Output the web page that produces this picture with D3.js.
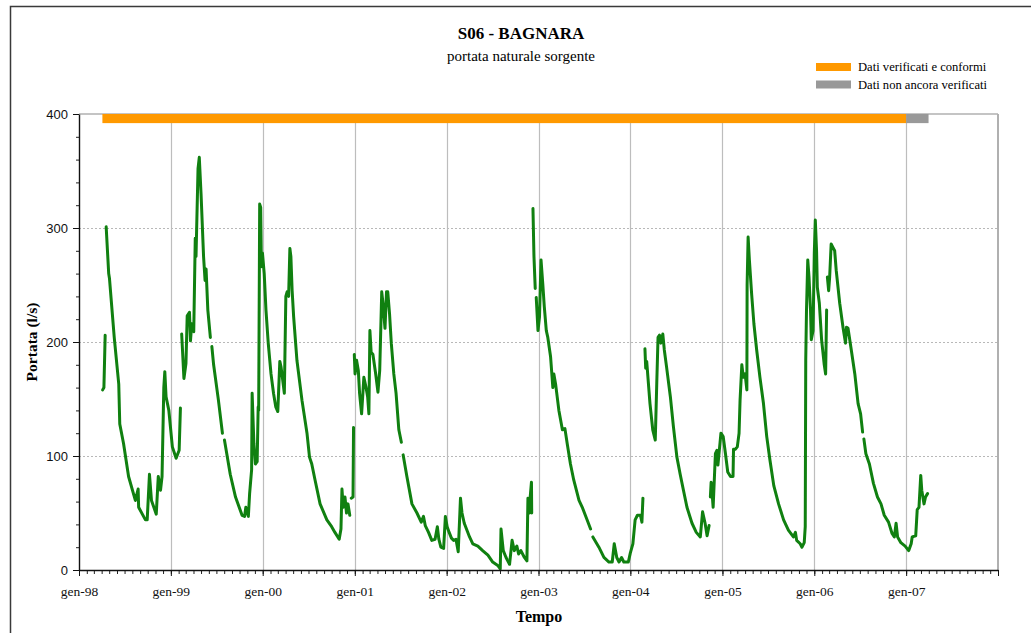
<!DOCTYPE html>
<html>
<head>
<meta charset="utf-8">
<script src="https://cdn.jsdelivr.net/npm/d3@7"></script>
<style>
  html, body { margin: 0; padding: 0; background: #fff; }
  svg { display: block; }
</style>
</head>
<body>
<svg id="chart" width="1031" height="633"></svg>
<script>
// Portata giornaliera della sorgente (l/s); null = dato mancante
const flowDates = [
  "1998-04-05","1998-04-10","1998-04-15","1998-04-16","1998-04-19","1998-04-29","1998-05-02","1998-05-21",
  "1998-06-08","1998-06-12","1998-06-27","1998-07-17","1998-08-13","1998-08-24","1998-08-26","1998-09-22",
  "1998-09-29","1998-10-08","1998-10-16","1998-11-04","1998-11-12","1998-11-21","1998-11-27","1998-12-04",
  "1998-12-08","1998-12-13","1998-12-24","1999-01-07","1999-01-22","1999-02-03","1999-02-08","1999-02-10",
  "1999-02-13","1999-02-22","1999-03-02","1999-03-07","1999-03-16","1999-03-20","1999-03-25","1999-04-02",
  "1999-04-08","1999-04-11","1999-04-19","1999-04-24","1999-05-01","1999-05-11","1999-05-17","1999-05-21",
  "1999-05-28","1999-06-07","1999-06-10","1999-06-13","1999-06-20","1999-07-09","1999-07-25","1999-07-28",
  "1999-08-02","1999-08-25","1999-09-15","1999-10-11","1999-10-21","1999-10-26","1999-11-05","1999-11-10",
  "1999-11-18","1999-11-20","1999-11-27","1999-12-03","1999-12-10","1999-12-14","1999-12-16","1999-12-20",
  "1999-12-24","1999-12-27","1999-12-31",
  "2000-01-07","2000-01-14","2000-01-23","2000-02-03","2000-02-13","2000-02-22","2000-03-01","2000-03-09",
  "2000-03-14","2000-03-22","2000-03-27","2000-04-02","2000-04-07","2000-04-13","2000-04-18","2000-04-22",
  "2000-04-27","2000-05-03","2000-05-16","2000-06-05","2000-06-25","2000-07-05","2000-07-14","2000-07-27",
  "2000-08-16","2000-09-12","2000-10-01","2000-10-14","2000-10-31","2000-11-07","2000-11-11","2000-11-16",
  "2000-11-23","2000-11-29","2000-12-05","2000-12-12","2000-12-15","2000-12-18","2000-12-25","2000-12-27",
  "2000-12-28","2000-12-30",
  "2001-01-02","2001-01-08","2001-01-15","2001-01-20","2001-01-28","2001-02-06","2001-02-14","2001-02-21",
  "2001-02-26","2001-03-02","2001-03-07","2001-03-14","2001-03-25","2001-04-03","2001-04-10","2001-04-18",
  "2001-04-23","2001-05-01","2001-05-07","2001-05-12","2001-05-19","2001-05-26","2001-06-05","2001-06-14",
  "2001-06-25","2001-07-05","2001-07-08","2001-07-12","2001-07-27","2001-08-16","2001-09-05","2001-09-22",
  "2001-10-01","2001-10-08","2001-10-21","2001-11-03","2001-11-16","2001-11-25","2001-12-01","2001-12-09",
  "2001-12-20","2001-12-27",
  "2002-01-03","2002-01-11","2002-01-20","2002-01-29","2002-02-07","2002-02-16","2002-02-25","2002-03-03",
  "2002-03-12","2002-04-02","2002-04-15","2002-05-05","2002-05-24","2002-06-14","2002-07-03","2002-07-23",
  "2002-08-02","2002-08-05","2002-08-14","2002-08-25","2002-09-08","2002-09-18","2002-09-27","2002-10-07",
  "2002-10-14","2002-10-23","2002-11-06","2002-11-16","2002-11-20","2002-11-26","2002-11-29","2002-12-04",
  "2002-12-05","2002-12-07","2002-12-10","2002-12-14","2002-12-19","2002-12-21","2002-12-23","2002-12-30",
  "2003-01-05","2003-01-11","2003-01-18","2003-01-24","2003-02-01","2003-02-07","2003-02-18","2003-02-27",
  "2003-03-03","2003-03-10","2003-03-23","2003-04-06","2003-04-16","2003-04-25","2003-05-08","2003-05-21",
  "2003-06-11","2003-06-24","2003-07-13","2003-07-27","2003-07-31","2003-08-05","2003-08-29","2003-09-18",
  "2003-10-08","2003-10-21","2003-10-29","2003-11-08","2003-11-17","2003-11-27","2003-12-06","2003-12-24",
  "2004-01-01","2004-01-11","2004-01-20","2004-01-29","2004-02-10","2004-02-16","2004-02-20","2004-02-24",
  "2004-02-28","2004-03-02","2004-03-06","2004-03-19","2004-03-30","2004-04-09","2004-04-15","2004-04-20",
  "2004-04-26","2004-05-01","2004-05-09","2004-05-15","2004-05-24","2004-06-08","2004-06-20","2004-07-04",
  "2004-07-17","2004-07-30","2004-08-13","2004-09-02","2004-09-19","2004-10-05","2004-10-14","2004-10-24",
  "2004-11-01","2004-11-09","2004-11-12","2004-11-14","2004-11-17","2004-11-21","2004-11-25","2004-12-04",
  "2004-12-10","2004-12-14","2004-12-26",
  "2005-01-04","2005-01-13","2005-01-22","2005-02-02","2005-02-12","2005-02-14","2005-02-21","2005-03-01",
  "2005-03-08","2005-03-12","2005-03-19","2005-03-25","2005-04-01","2005-04-08","2005-04-09","2005-04-13",
  "2005-04-18","2005-04-27","2005-05-06","2005-05-17","2005-05-30","2005-06-13","2005-06-26","2005-07-09",
  "2005-07-24","2005-08-12","2005-09-01","2005-09-20","2005-10-10","2005-10-18","2005-10-23","2005-11-06",
  "2005-11-13","2005-11-22","2005-11-26","2005-11-28","2005-12-01","2005-12-06","2005-12-11","2005-12-17",
  "2005-12-20","2005-12-27",
  "2006-01-01","2006-01-05","2006-01-10","2006-01-13","2006-01-21","2006-01-30","2006-02-09","2006-02-15",
  "2006-02-19","2006-02-20","2006-02-22","2006-02-27","2006-03-03","2006-03-09","2006-03-16","2006-03-23",
  "2006-03-29","2006-04-12","2006-04-25","2006-05-05","2006-05-09","2006-05-15","2006-05-28","2006-06-11",
  "2006-06-24","2006-07-04","2006-07-12","2006-07-14","2006-07-17","2006-07-25","2006-08-08","2006-08-24",
  "2006-09-09","2006-09-23","2006-10-06","2006-10-23","2006-11-06","2006-11-15","2006-11-22","2006-11-28",
  "2006-12-11","2006-12-28",
  "2007-01-11","2007-01-21","2007-01-25","2007-02-08","2007-02-14","2007-02-21","2007-02-28","2007-03-04",
  "2007-03-13","2007-03-19","2007-03-27"
];

const flowValues = [
  158,160,206,null,301,260,256,204,
  163,128,111,82,61,71,55,44,
  44,84,61,49,82,70,82,160,
  174,152,140,108,98,105,142,null,
  207,168,181,223,226,201,216,209,
  291,275,352,362,330,275,254,264,
  228,204,null,196,180,149,120,null,
  114,84,64,48,47,55,47,67,
  88,155,111,93,95,143,140,321,
  318,266,278,
  260,228,199,172,155,143,139,183,
  178,164,155,240,244,240,282,275,
  245,222,184,149,120,99,93,79,
  58,44,38,33,27,36,71,55,
  64,50,58,48,null,63,64,125,
  null,189,
  172,184,175,155,137,169,161,152,
  137,210,191,189,172,156,175,244,
  234,212,244,244,225,199,172,155,
  123,112,null,101,82,58,50,42,
  47,39,33,26,27,38,27,20,
  19,47,
  38,33,28,26,27,16,63,50,
  41,29,23,21,17,13,7,4,
  1,36,17,11,5,26,17,21,
  14,17,11,8,63,50,64,77,
  50,null,317,275,247,null,239,210,
  222,272,251,231,210,204,187,160,
  172,163,140,123,124,111,93,79,
  61,55,44,36,null,29,20,11,
  7,7,23,11,7,11,7,7,
  15,23,44,48,48,42,63,null,
  194,177,183,146,123,114,164,204,
  206,199,207,193,178,152,126,99,
  84,70,55,41,33,29,51,41,
  30,39,null,64,77,67,55,102,
  105,92,120,
  117,102,86,82,82,106,106,108,
  120,149,180,169,172,158,250,292,
  272,242,216,193,169,146,117,96,
  74,58,44,35,29,33,26,23,
  20,24,38,184,228,272,257,228,
  202,210,
  278,307,280,248,234,202,181,172,
  228,null,257,245,257,286,283,280,
  263,234,213,199,213,212,193,172,
  146,137,121,null,115,102,93,76,
  64,58,48,42,32,29,41,29,
  24,21,
  17,23,29,30,53,55,83,70,
  58,64,67
];

// Etichette dell'asse dei tempi (gennaio di ogni anno)
const yearTickDates = ["1998-01-01","1999-01-01","2000-01-01","2001-01-01","2002-01-01",
                       "2003-01-01","2004-01-01","2005-01-01","2006-01-01","2007-01-01"];
const yearTickLabels = ["gen-98","gen-99","gen-00","gen-01","gen-02",
                        "gen-03","gen-04","gen-05","gen-06","gen-07"];
const flowTickValues = [0, 100, 200, 300, 400];

// Stato di validazione dei dati
const statusLabels = ["Dati verificati e conformi", "Dati non ancora verificati"];
const statusColors = ["#ff9900", "#999999"];
const statusStart  = ["1998-04-04", "2007-01-01"];
const statusEnd    = ["2007-01-01", "2007-03-31"];

const parse = d3.utcParse("%Y-%m-%d");
const svg = d3.select("#chart");

const plotL = 79, plotR = 998, plotT = 114, plotB = 570;
const x = d3.scaleUtc()
  .domain([parse("1998-01-01"), parse("2008-01-01")])
  .range([plotL, plotR]);
const y = d3.scaleLinear().domain([0, 400]).range([plotB, plotT]);

const serif = "'Liberation Serif', 'Times New Roman', serif";
const sans  = "'Liberation Sans', Arial, sans-serif";

// cornice esterna
svg.append("rect")
  .attr("x", 10.5).attr("y", 6.5)
  .attr("width", 1200).attr("height", 800)
  .attr("fill", "none").attr("stroke", "#3a3a3a").attr("stroke-width", 1.5);

// titolo
svg.append("text")
  .attr("x", 521).attr("y", 39)
  .attr("text-anchor", "middle")
  .style("font-family", serif).style("font-size", "17px").style("font-weight", "bold")
  .text("S06 - BAGNARA");
svg.append("text")
  .attr("x", 521).attr("y", 61)
  .attr("text-anchor", "middle")
  .style("font-family", serif).style("font-size", "15px")
  .text("portata naturale sorgente");

// legenda
const legend = svg.append("g");
statusLabels.forEach((label, i) => {
  const ly = 63 + i * 17.5;
  legend.append("rect")
    .attr("x", 816).attr("y", ly).attr("width", 35).attr("height", 8)
    .attr("fill", statusColors[i]);
  legend.append("text")
    .attr("x", 858).attr("y", ly + 8)
    .style("font-family", serif).style("font-size", "12.6px")
    .text(label);
});

// griglia
const grid = svg.append("g");
grid.selectAll(".hgrid")
  .data(flowTickValues.filter(v => v > 0 && v < 400))
  .join("line")
  .attr("x1", plotL).attr("x2", plotR)
  .attr("y1", d => y(d) + 0.5).attr("y2", d => y(d) + 0.5)
  .attr("stroke", "#b8b8b8").attr("stroke-width", 1)
  .attr("stroke-dasharray", "2,2");
grid.selectAll(".vgrid")
  .data(yearTickDates.slice(1))
  .join("line")
  .attr("x1", d => Math.round(x(parse(d))) + 0.5).attr("x2", d => Math.round(x(parse(d))) + 0.5)
  .attr("y1", plotT).attr("y2", plotB)
  .attr("stroke", "#bdbdbd").attr("stroke-width", 1.2);

// bordo dell'area del grafico
svg.append("line")
  .attr("x1", plotL).attr("x2", plotR).attr("y1", plotT).attr("y2", plotT)
  .attr("stroke", "#b0b0b0").attr("stroke-width", 1.5);
svg.append("line")
  .attr("x1", plotR).attr("x2", plotR).attr("y1", plotT).attr("y2", plotB)
  .attr("stroke", "#b0b0b0").attr("stroke-width", 2);

// barra dello stato di validazione
svg.append("g").selectAll("rect")
  .data(statusLabels.map((l, i) => ({ s: parse(statusStart[i]), e: parse(statusEnd[i]), c: statusColors[i] })))
  .join("rect")
  .attr("x", d => x(d.s))
  .attr("width", d => x(d.e) - x(d.s))
  .attr("y", y(400))
  .attr("height", y(392) - y(400))
  .attr("fill", d => d.c);

// serie della portata
const series = flowDates.map((d, i) => ({ date: parse(d), value: flowValues[i] }));
const line = d3.line()
  .defined(d => d.value !== null)
  .x(d => x(d.date))
  .y(d => y(d.value));
svg.append("path")
  .datum(series)
  .attr("d", line)
  .attr("fill", "none")
  .attr("stroke", "#108010")
  .attr("stroke-width", 3)
  .attr("stroke-linejoin", "round")
  .attr("stroke-linecap", "round");

// asse delle portate
const yMinor = svg.append("g")
  .attr("transform", `translate(${plotL},0)`)
  .call(d3.axisLeft(y).tickValues(d3.range(0, 401, 20)).tickSize(3).tickFormat("").tickSizeOuter(0));
yMinor.select(".domain").remove();
yMinor.selectAll("line").attr("stroke", "#222");

const yAxis = svg.append("g")
  .attr("transform", `translate(${plotL},0)`)
  .call(d3.axisLeft(y).tickValues(flowTickValues).tickSize(6).tickPadding(5).tickSizeOuter(0));
yAxis.select(".domain").attr("stroke", "#111").attr("stroke-width", 1.4);
yAxis.selectAll("line").attr("stroke", "#111");
yAxis.selectAll("text")
  .style("font-family", sans).style("font-size", "13px").attr("fill", "#111");

// asse dei tempi
const xMinor = svg.append("g")
  .attr("transform", `translate(0,${plotB})`)
  .call(d3.axisBottom(x).ticks(d3.utcMonth.every(1)).tickSize(4).tickFormat("").tickSizeOuter(0));
xMinor.select(".domain").remove();
xMinor.selectAll("line").attr("stroke", "#222");

const xAxis = svg.append("g")
  .attr("transform", `translate(0,${plotB})`)
  .call(d3.axisBottom(x)
    .tickValues(yearTickDates.map(parse).concat([parse("2008-01-01")]))
    .tickSize(6).tickPadding(10).tickSizeOuter(0)
    .tickFormat((d, i) => yearTickLabels[i] || ""));
xAxis.select(".domain").attr("stroke", "#111").attr("stroke-width", 1.4);
xAxis.selectAll("line").attr("stroke", "#111");
xAxis.selectAll("text")
  .style("font-family", serif).style("font-size", "13.5px").attr("fill", "#111");

// titoli degli assi
svg.append("text")
  .attr("transform", `translate(37,342) rotate(-90)`)
  .attr("text-anchor", "middle")
  .style("font-family", serif).style("font-size", "15.5px").style("font-weight", "bold")
  .text("Portata (l/s)");
svg.append("text")
  .attr("x", 539).attr("y", 622)
  .attr("text-anchor", "middle")
  .style("font-family", serif).style("font-size", "16px").style("font-weight", "bold")
  .text("Tempo");
</script>
</body>
</html>
